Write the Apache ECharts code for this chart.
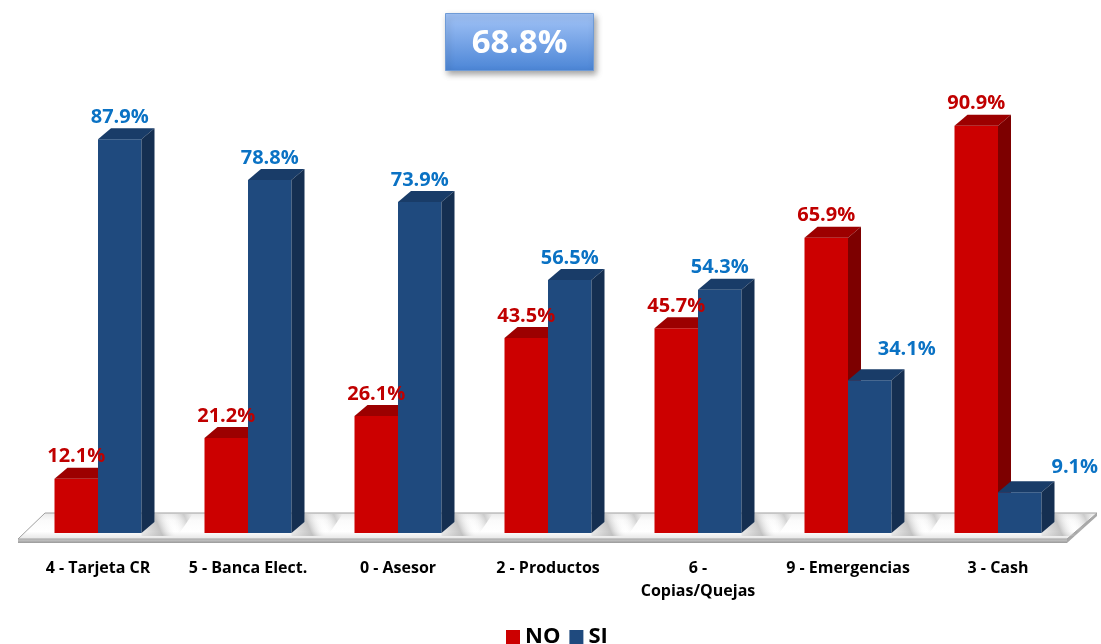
<!DOCTYPE html>
<html>
<head>
<meta charset="utf-8">
<script src="https://cdn.jsdelivr.net/npm/echarts@6/dist/echarts.min.js"></script>
<style>
  html, body { margin: 0; padding: 0; background: #ffffff; }
  #chart { width: 1101px; height: 644px; }
</style>
</head>
<body>
<div id="chart"></div>
<script>
// Survey results by channel: share of "NO" and "SI" answers (percent)
const categories = ['4 - Tarjeta CR', '5 - Banca Elect.', '0 - Asesor', '2 - Productos', '6 - Copias/Quejas', '9 - Emergencias', '3 - Cash'];
const noValues = [12.1, 21.2, 26.1, 43.5, 45.7, 65.9, 90.9];
const siValues = [87.9, 78.8, 73.9, 56.5, 54.3, 34.1, 9.1];
const seriesNames = ['NO', 'SI'];
const overallValue = 68.8;

const FONT = '"Open Sans", "DejaVu Sans", sans-serif';
const DEPTH_X = 13;
const DEPTH_Y = 11;
const BAR_SHARE = 0.29;
const LABEL_MAX_CHARS = 16;

// Label nudges for the short bars whose labels sit beside them
const labelNudge = {
  SI: { 5: [37, -9], 6: [55, -3] }
};

const palette = {
  NO: { front: '#cc0000', top: '#9c0000', side: '#7d0000', label: '#c00000' },
  SI: { front: '#1f4a7e', top: '#193c68', side: '#152f51', label: '#0a72c4' }
};

// Greedy word wrap on spaces for long category names
function wrapWords(text) {
  const words = text.split(' ');
  const lines = [];
  let line = '';
  words.forEach(function (w) {
    const next = line ? line + ' ' + w : w;
    if (next.length > LABEL_MAX_CHARS && line) {
      lines.push(line);
      line = w;
    } else {
      line = next;
    }
  });
  lines.push(line);
  return lines.join('\n');
}

function barBox(api, side) {
  const idx = api.value(0);
  const v = api.value(1);
  const base = api.coord([idx, 0]);
  const top = api.coord([idx, v]);
  const w = api.size([1, 0])[0] * BAR_SHARE;
  const x0 = side < 0 ? base[0] - w : base[0];
  return { idx: idx, v: v, x0: x0, x1: x0 + w, y0: top[1], y1: base[1] };
}

function makeBarRenderer(name, side) {
  const c = palette[name];
  return function (params, api) {
    const b = barBox(api, side);
    const children = [];
    if (side > 0) {
      // soft floor shadow cast to the right of the pair
      children.push({
        type: 'polygon',
        shape: { points: [[b.x1, b.y1], [b.x1 + DEPTH_X, b.y1 - DEPTH_Y], [b.x1 + DEPTH_X, b.y1 - 19], [b.x1 + DEPTH_X + 38, b.y1 - 19], [b.x1 + 36, b.y1 + 3], [b.x1, b.y1 + 3]] },
        style: {
          fill: {
            type: 'linear', x: 0, y: 1, x2: 1, y2: 0,
            colorStops: [
              { offset: 0, color: 'rgba(150,150,150,0.15)' },
              { offset: 0.35, color: 'rgba(150,150,150,0.55)' },
              { offset: 0.6, color: 'rgba(255,255,255,0)' },
              { offset: 0.85, color: 'rgba(150,150,150,0.4)' },
              { offset: 1, color: 'rgba(170,170,170,0)' }
            ]
          }
        }
      });
    }
    children.push(
      { type: 'rect', shape: { x: b.x0, y: b.y0, width: b.x1 - b.x0, height: b.y1 - b.y0 }, style: { fill: c.front } },
      { type: 'polygon', shape: { points: [[b.x0, b.y0], [b.x0 + DEPTH_X, b.y0 - DEPTH_Y], [b.x1 + DEPTH_X, b.y0 - DEPTH_Y], [b.x1, b.y0]] }, style: { fill: c.top } },
      { type: 'polygon', shape: { points: [[b.x1, b.y0], [b.x1 + DEPTH_X, b.y0 - DEPTH_Y], [b.x1 + DEPTH_X, b.y1 - DEPTH_Y], [b.x1, b.y1]] }, style: { fill: c.side } }
    );
    return { type: 'group', children: children };
  };
}

function makeLabelRenderer(name, side) {
  const c = palette[name];
  return function (params, api) {
    const b = barBox(api, side);
    const nudge = (labelNudge[name] && labelNudge[name][b.idx]) || [0, 0];
    return {
      type: 'text',
      style: {
        x: (b.x0 + b.x1) / 2 + nudge[0],
        y: b.y0 - DEPTH_Y - 1 + nudge[1],
        text: b.v.toFixed(1) + '%',
        fill: c.label,
        font: 'bold 20px ' + FONT,
        align: 'center',
        verticalAlign: 'bottom'
      }
    };
  };
}

// Floor slab under the bars
function renderFloor(params, api) {
  const cs = params.coordSys;
  const l = cs.x, r = cs.x + cs.width, b = cs.y + cs.height;
  const front = b + 6, back = b - 20;
  const fl = l - 5, fr = r - 6, bl = l + 22, br = r + 24;
  return {
    type: 'group',
    children: [
      { type: 'polygon', shape: { points: [[fl, front], [fr, front], [fr, front + 4], [fl, front + 4]] },
        style: { fill: { type: 'linear', x: 0, y: 0, x2: 0, y2: 1, colorStops: [{ offset: 0, color: '#cfcfcf' }, { offset: 1, color: '#9a9a9a' }] } } },
      { type: 'polygon', shape: { points: [[fr, front], [br, back], [br, back + 3], [fr, front + 4]] }, style: { fill: '#a8a8a8' } },
      { type: 'polygon', shape: { points: [[bl, back], [br, back], [fr, front], [fl, front]] },
        style: {
          fill: { type: 'linear', x: 0, y: 0, x2: 0, y2: 1, colorStops: [{ offset: 0, color: '#e8e8e8' }, { offset: 0.3, color: '#fbfbfb' }, { offset: 0.7, color: '#ffffff' }, { offset: 1, color: '#e4e4e4' }] },
          stroke: '#a0a0a0', lineWidth: 1
        } }
    ]
  };
}

const chart = echarts.init(document.getElementById('chart'), null, { renderer: 'canvas' });

const barData = (values) => values.map((v, i) => [i, v]);

chart.setOption({
  backgroundColor: '#ffffff',
  animation: false,
  grid: { left: 23, width: 1050, top: 85, bottom: 111 },
  legend: {
    data: seriesNames,
    left: 501,
    top: 621,
    icon: 'rect',
    itemWidth: 14,
    itemHeight: 14,
    itemGap: 9,
    textStyle: { fontFamily: FONT, fontWeight: 'bold', fontSize: 22, color: '#000000' }
  },
  xAxis: {
    type: 'category',
    data: categories,
    axisLine: { show: false },
    axisTick: { show: false },
    axisLabel: {
      margin: 24,
      fontFamily: FONT,
      fontWeight: 'bold',
      fontSize: 16,
      color: '#000000',
      lineHeight: 23,
      interval: 0,
      formatter: wrapWords
    }
  },
  yAxis: { type: 'value', min: 0, max: 100, show: false, splitLine: { show: false } },
  graphic: [
    {
      type: 'group',
      left: 445,
      top: 13,
      children: [
        {
          type: 'rect',
          shape: { x: 0, y: 0, width: 148, height: 57 },
          style: {
            fill: { type: 'linear', x: 0, y: 0, x2: 0, y2: 1, colorStops: [{ offset: 0, color: '#a3c4f7' }, { offset: 1, color: '#4b85d6' }] },
            stroke: '#6f9bd6', lineWidth: 1,
            shadowBlur: 6, shadowOffsetX: 2, shadowOffsetY: 3, shadowColor: 'rgba(0,0,0,0.35)'
          }
        },
        {
          type: 'text',
          style: {
            x: 74, y: 30,
            text: overallValue.toFixed(1) + '%',
            fill: '#ffffff',
            font: 'bold 33px ' + FONT,
            align: 'center',
            verticalAlign: 'middle'
          }
        }
      ]
    }
  ],
  series: [
    { type: 'custom', name: '_floor', z: 1, silent: true, renderItem: renderFloor, data: [[0, 0]], encode: { x: 0, y: 1 } },
    { type: 'custom', name: 'NO', z: 3, itemStyle: { color: palette.NO.front }, renderItem: makeBarRenderer('NO', -1), data: barData(noValues), encode: { x: 0, y: 1 } },
    { type: 'custom', name: 'SI', z: 4, itemStyle: { color: palette.SI.front }, renderItem: makeBarRenderer('SI', 1), data: barData(siValues), encode: { x: 0, y: 1 } },
    { type: 'custom', name: '_noLabels', z: 6, silent: true, renderItem: makeLabelRenderer('NO', -1), data: barData(noValues), encode: { x: 0, y: 1 } },
    { type: 'custom', name: '_siLabels', z: 6, silent: true, renderItem: makeLabelRenderer('SI', 1), data: barData(siValues), encode: { x: 0, y: 1 } }
  ]
});
</script>
</body>
</html>
